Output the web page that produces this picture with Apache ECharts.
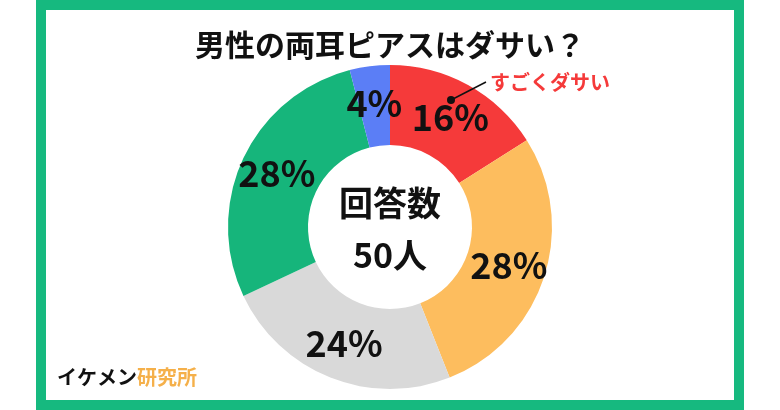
<!DOCTYPE html><html><head><meta charset="utf-8"><script src="https://cdn.jsdelivr.net/npm/echarts@6/dist/echarts.min.js"></script><style>body{margin:0}#c{width:780px;height:410px}</style></head><body><div id="c"></div><script>
const categories=['すごくダサい','ややダサい','どちらとも言えない','あまりダサくない','全くダサくない'];
const values=[16,28,24,28,4];
const colors=['#f53a3a','#fdbd5e','#d9d9d9','#16b57b','#5b7ef6'];
const F='Noto Sans CJK JP';
const T=(s,o)=>Object.assign({fontFamily:F,fontWeight:'bold',fontSize:s,fill:'#111'},o);
const c=echarts.init(document.getElementById('c'));
c.setOption({
graphic:[
{type:'rect',z:100,shape:{x:41,y:5,width:698,height:400},style:{fill:'none',stroke:'#16b97f',lineWidth:10}},
{type:'text',z:100,x:390,y:45,style:T(30,{text:'男性の両耳ピアスはダサい？',align:'center',verticalAlign:'middle'})},
{type:'text',z:100,left:57,top:367,style:{rich:{a:T(20),b:T(20,{fill:'#f5b04a'})},text:'{a|イケメン}{b|研究所}'}},
{type:'text',z:100,x:390,y:229,style:T(34,{text:'回答数\n50人',align:'center',verticalAlign:'middle',lineHeight:52})},
{type:'line',z:100,shape:{x1:451,y1:100,x2:486,y2:82},style:{stroke:'#111',lineWidth:1.5}},
{type:'circle',z:100,shape:{cx:451,cy:100,r:4},style:{fill:'#111'}},
{type:'text',z:100,x:490,y:82,style:T(20,{text:categories[0],fill:'#f53a3a',verticalAlign:'middle'})}
],
series:[{type:'pie',center:[390,227],radius:[82,162],startAngle:90,clockwise:true,silent:true,
label:{position:'inside',formatter:'{c}%',color:'#111',fontSize:36,fontWeight:'bold',fontFamily:F},
labelLine:{show:false},
data:values.map((v,i)=>({name:categories[i],value:v,itemStyle:{color:colors[i]}}))}]
});
</script></body></html>
